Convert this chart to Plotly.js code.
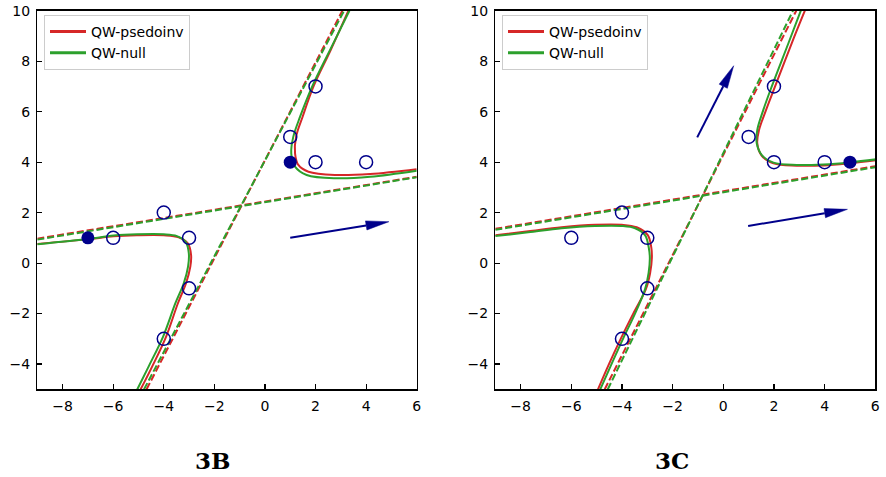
<!DOCTYPE html>
<html>
<head>
<meta charset="utf-8">
<script src="https://cdn.plot.ly/plotly-3.0.1.min.js"></script>
<style>html,body{margin:0;padding:0;background:#fff}#chart{width:886px;height:477px}</style>
</head>
<body>
<div id="chart"></div>
<script>
// ---------- Data ----------
const panelTitles = ["3B", "3C"];
const seriesNames = ["QW-psedoinv", "QW-null"];

// Panel 3B fitted curves (two branches each)
const B_pinv_up_x = [3.30, 2.60, 1.92, 1.49, 1.23, 1.19, 1.32, 1.72, 2.84, 4.16, 6.0];
const B_pinv_up_y = [10, 8.44, 7.0, 5.80, 5.0, 4.35, 3.89, 3.62, 3.49, 3.53, 3.72];
const B_null_up_x = [3.34, 2.57, 1.87, 1.39, 1.12, 1.04, 1.19, 1.65, 2.84, 4.16, 6.0];
const B_null_up_y = [10, 8.44, 7.0, 5.80, 5.0, 4.35, 3.82, 3.49, 3.36, 3.42, 3.66];
const B_pinv_lo_x = [-9.0, -7.03, -5.98, -5.06, -4.0, -3.41, -3.05, -2.92, -2.95, -3.12, -3.44, -3.91, -4.46, -4.93];
const B_pinv_lo_y = [0.76, 0.94, 1.06, 1.10, 1.10, 1.02, 0.78, 0.32, -0.14, -0.80, -1.59, -2.92, -4.1, -5.03];
const B_null_lo_x = [-9.0, -7.03, -5.98, -5.06, -4.0, -3.48, -3.14, -3.01, -3.04, -3.21, -3.54, -4.03, -4.6, -5.06];
const B_null_lo_y = [0.745, 0.955, 1.09, 1.14, 1.14, 1.07, 0.85, 0.39, -0.14, -0.80, -1.59, -2.92, -4.1, -5.03];
// Panel 3B asymptotes (dashed)
const B_pinv_steep_x = [-4.68, 3.06], B_pinv_steep_y = [-5, 10];
const B_null_steep_x = [-4.78, 3.13], B_null_steep_y = [-5, 10];
const B_pinv_flat_x = [-9, 6], B_pinv_flat_y = [0.97, 3.42];
const B_null_flat_x = [-9, 6], B_null_flat_y = [0.93, 3.40];

// Panel 3C fitted curves
const C_pinv_up_x = [3.22, 2.70, 2.04, 1.69, 1.41, 1.34, 1.52, 1.98, 2.90, 3.95, 5.0, 6.03];
const C_pinv_up_y = [10, 8.71, 6.99, 6.07, 5.27, 4.75, 4.25, 3.95, 3.86, 3.87, 3.96, 4.08];
const C_null_up_x = [3.06, 2.57, 1.91, 1.58, 1.34, 1.32, 1.52, 1.98, 2.90, 3.95, 5.0, 6.03];
const C_null_up_y = [10, 8.71, 6.99, 6.07, 5.27, 4.75, 4.28, 3.98, 3.89, 3.91, 3.99, 4.11];
const C_pinv_lo_x = [-9.0, -7.70, -6.38, -5.06, -4.01, -3.42, -2.98, -2.84, -2.82, -2.89, -3.06, -3.55, -4.04, -4.50, -4.96];
const C_pinv_lo_y = [1.10, 1.26, 1.42, 1.52, 1.52, 1.42, 1.11, 0.60, 0.20, -0.40, -1.04, -1.99, -2.98, -3.97, -5.03];
const C_null_lo_x = [-9.0, -7.70, -6.38, -5.06, -4.01, -3.48, -3.09, -2.94, -2.90, -2.95, -3.09, -3.48, -3.95, -4.40, -4.87];
const C_null_lo_y = [1.07, 1.22, 1.38, 1.47, 1.47, 1.38, 1.11, 0.60, 0.20, -0.40, -1.04, -1.99, -2.98, -3.97, -5.03];
// Panel 3C asymptotes
const C_pinv_steep_x = [-4.68, 2.88], C_pinv_steep_y = [-5, 10];
const C_null_steep_x = [-4.56, 2.75], C_null_steep_y = [-5, 10];
const C_pinv_flat_x = [-9, 6], C_pinv_flat_y = [1.36, 3.84];
const C_null_flat_x = [-9, 6], C_null_flat_y = [1.32, 3.80];

// Observed points
const open_x = [-6, -4, -3, -3, -4, 1, 2, 2, 4];
const open_y = [1, 2, 1, -1, -3, 5, 7, 4, 4];
const B_filled_x = [-7, 1], B_filled_y = [1, 4];
const C_filled_x = [5], C_filled_y = [4];

// Arrows: [x0, y0, x1(tip), y1(tip)]
const B_arrows = [[1.0, 1.0, 4.9, 1.64]];
const C_arrows = [[0.98, 1.47, 4.9, 2.13], [-1.03, 4.98, 0.41, 7.82]];

// ---------- Styling ----------
const RED = '#d62728', GREEN = '#2ca02c', NAVY = '#00008b';
const W = 886, H = 477;
const xdomB = [37.3 / W, 416.7 / W], xdomC = [495.3 / W, 875.3 / W];
const ydom = [1 - 389.3 / H, 1 - 10.7 / H];
const XR = [-9, 6], YR = [-5, 10];

const traces = [];
function line(x, y, color, ax, opts) {
  return Object.assign({
    type: 'scatter', mode: 'lines', x: x, y: y,
    xaxis: ax[0], yaxis: ax[1],
    line: {color: color, width: 2, shape: 'spline', smoothing: 1},
    showlegend: false, hoverinfo: 'skip'
  }, opts || {});
}
function dashed(x, y, color, ax) {
  return line(x, y, color, ax, {line: {color: color, width: 2, dash: '7px,3px'}});
}

function addPanel(ax, leg, d) {
  // legend-only entries (thicker line like the reference legend)
  traces.push(line([null], [null], RED, ax, {name: seriesNames[0], showlegend: true, legend: leg,
    line: {color: RED, width: 3}}));
  traces.push(line([null], [null], GREEN, ax, {name: seriesNames[1], showlegend: true, legend: leg,
    line: {color: GREEN, width: 3}}));
  traces.push(line(d.pup[0], d.pup[1], RED, ax));
  traces.push(line(d.plo[0], d.plo[1], RED, ax));
  traces.push(line(d.nup[0], d.nup[1], GREEN, ax));
  traces.push(line(d.nlo[0], d.nlo[1], GREEN, ax));
  traces.push(dashed(d.ps[0], d.ps[1], RED, ax));
  traces.push(dashed(d.pf[0], d.pf[1], RED, ax));
  traces.push(dashed(d.ns[0], d.ns[1], GREEN, ax));
  traces.push(dashed(d.nf[0], d.nf[1], GREEN, ax));
  traces.push({type: 'scatter', mode: 'markers', x: open_x, y: open_y, xaxis: ax[0], yaxis: ax[1],
    marker: {symbol: 'circle-open', size: 13, color: NAVY, line: {width: 1.5, color: NAVY}},
    showlegend: false, hoverinfo: 'skip'});
  traces.push({type: 'scatter', mode: 'markers', x: d.fx, y: d.fy, xaxis: ax[0], yaxis: ax[1],
    marker: {symbol: 'circle', size: 13, color: NAVY},
    showlegend: false, hoverinfo: 'skip'});
  // arrows (shaft + triangular head computed from the arrow data)
  const pxX = (d.dom[1] - d.dom[0]) * W / (XR[1] - XR[0]);
  const pxY = (ydom[1] - ydom[0]) * H / (YR[1] - YR[0]);
  const L = 23, HW = 4.6;
  d.arrows.forEach(a => {
    const dxp = (a[2] - a[0]) * pxX, dyp = (a[3] - a[1]) * pxY;
    const len = Math.hypot(dxp, dyp);
    const ux = dxp / len, uy = dyp / len;
    const bx = a[2] - L * ux / pxX, by = a[3] - L * uy / pxY;
    const c1x = bx + HW * (-uy) / pxX, c1y = by + HW * ux / pxY;
    const c2x = bx - HW * (-uy) / pxX, c2y = by - HW * ux / pxY;
    traces.push({type: 'scatter', mode: 'lines', x: [a[0], bx], y: [a[1], by], xaxis: ax[0], yaxis: ax[1],
      line: {color: NAVY, width: 2}, showlegend: false, hoverinfo: 'skip'});
    traces.push({type: 'scatter', mode: 'lines', x: [a[2], c1x, c2x, a[2]], y: [a[3], c1y, c2y, a[3]],
      xaxis: ax[0], yaxis: ax[1], fill: 'toself', fillcolor: NAVY,
      line: {color: NAVY, width: 0.5}, showlegend: false, hoverinfo: 'skip'});
  });
}

addPanel(['x', 'y'], 'legend', {
  pup: [B_pinv_up_x, B_pinv_up_y], plo: [B_pinv_lo_x, B_pinv_lo_y],
  nup: [B_null_up_x, B_null_up_y], nlo: [B_null_lo_x, B_null_lo_y],
  ps: [B_pinv_steep_x, B_pinv_steep_y], pf: [B_pinv_flat_x, B_pinv_flat_y],
  ns: [B_null_steep_x, B_null_steep_y], nf: [B_null_flat_x, B_null_flat_y],
  fx: B_filled_x, fy: B_filled_y, arrows: B_arrows, dom: xdomB
});
addPanel(['x2', 'y2'], 'legend2', {
  pup: [C_pinv_up_x, C_pinv_up_y], plo: [C_pinv_lo_x, C_pinv_lo_y],
  nup: [C_null_up_x, C_null_up_y], nlo: [C_null_lo_x, C_null_lo_y],
  ps: [C_pinv_steep_x, C_pinv_steep_y], pf: [C_pinv_flat_x, C_pinv_flat_y],
  ns: [C_null_steep_x, C_null_steep_y], nf: [C_null_flat_x, C_null_flat_y],
  fx: C_filled_x, fy: C_filled_y, arrows: C_arrows, dom: xdomC
});

const tickFont = {family: 'DejaVu Sans', size: 14, color: '#000'};
function xaxis(dom, anchor) {
  return {domain: dom, anchor: anchor, range: XR, dtick: 2, tick0: 0, ticks: 'inside', ticklen: 5,
    tickwidth: 1.2, tickcolor: '#000', showline: true, linecolor: '#000', linewidth: 1.3, mirror: true,
    showgrid: false, zeroline: false, tickfont: tickFont, ticklabelstandoff: 4, fixedrange: true};
}
function yaxis(anchor) {
  return {domain: ydom, anchor: anchor, range: YR, dtick: 2, tick0: 0, ticks: 'inside', ticklen: 5,
    tickwidth: 1.2, tickcolor: '#000', showline: true, linecolor: '#000', linewidth: 1.3, mirror: true,
    showgrid: false, zeroline: false, tickfont: tickFont, ticklabelstandoff: 3, fixedrange: true};
}
function legend(xpx) {
  return {x: xpx / W, y: 1 - 15 / H, xanchor: 'left', yanchor: 'top',
    bgcolor: 'rgba(255,255,255,0.8)', bordercolor: '#cccccc', borderwidth: 1, itemwidth: 36,
    font: {family: 'DejaVu Sans', size: 14, color: '#000'}, tracegroupgap: 0, traceorder: 'normal'};
}

const layout = {
  width: W, height: H, margin: {l: 0, r: 0, t: 0, b: 0},
  paper_bgcolor: '#fff', plot_bgcolor: '#fff', showlegend: true,
  xaxis: xaxis(xdomB, 'y'), yaxis: yaxis('x'),
  xaxis2: xaxis(xdomC, 'y2'), yaxis2: yaxis('x2'),
  legend: legend(44), legend2: legend(502),
  annotations: [
    {text: '<b>' + panelTitles[0] + '</b>', xref: 'paper', yref: 'paper', x: 212.5 / W, y: 1 - 460 / H,
     xanchor: 'center', yanchor: 'middle', showarrow: false, font: {family: 'DejaVu Serif', size: 23, color: '#000'}},
    {text: '<b>' + panelTitles[1] + '</b>', xref: 'paper', yref: 'paper', x: 671.5 / W, y: 1 - 460 / H,
     xanchor: 'center', yanchor: 'middle', showarrow: false, font: {family: 'DejaVu Serif', size: 23, color: '#000'}}
  ]
};

Plotly.newPlot('chart', traces, layout, {staticPlot: true});
</script>
</body>
</html>
